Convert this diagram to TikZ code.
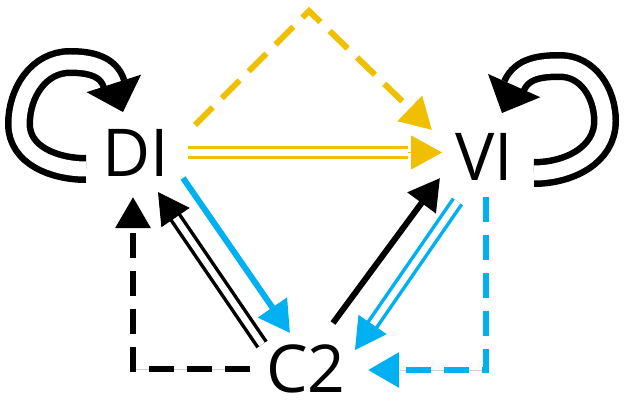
\documentclass[tikz,border=0pt]{standalone}
\usepackage{fontspec}
\setmainfont{Open Sans}
\usetikzlibrary{arrows.meta}
\definecolor{cyel}{RGB}{240,192,0}
\definecolor{cblu}{RGB}{0,176,240}
\begin{document}
\begin{tikzpicture}[x=1pt,y=-1pt,
  lbl/.style={font=\fontsize{66}{66}\selectfont, inner sep=0pt, anchor=base},
  solidln/.style={line width=6pt},
  dashln/.style={line width=6pt, dash pattern=on 25pt off 13pt, line join=miter},
  dblln/.style={line width=3.5pt, double=white, double distance=6.5pt},
  loopln/.style={line width=6.5pt, double=white, double distance=15pt},
  hd/.style={-{Triangle[length=31pt,width=34pt]}},
  tiponly/.style={-{Triangle[length=31pt,width=34pt]}, line width=1pt},
  bighd/.style={-{Triangle[length=30pt,width=57pt]}, line width=1pt},
  gline/.style={line width=0.8pt, gray!35}
]
\useasboundingbox (0,0) rectangle (624,401);
% labels
\node[lbl] (DI) at (135.5,177) {DI};
\node[lbl] (VI) at (484,180) {VI};
\node[lbl] (C2) at (306,392) {C2};
% coordinates
\coordinate (ys) at (188,152.5);
\coordinate (yb) at (408,152.5);
\coordinate (yt) at (442,152.5);
\coordinate (yd1) at (195,125);
\coordinate (yd2) at (309,11);
\coordinate (yd3) at (432,130);
\coordinate (b1s) at (183,178);
\coordinate (b1t) at (290,333);
\coordinate (k2s) at (262,344.5);
\coordinate (k2b) at (173.8,215.1);
\coordinate (k2t) at (158,192);
\coordinate (k1s) at (333,323);
\coordinate (k1t) at (440,178);
\coordinate (b2s) at (457.5,201.5);
\coordinate (b2b) at (372,325.3);
\coordinate (b2t) at (355,350);
\coordinate (kd1) at (250,369);
\coordinate (kd2) at (133,369);
\coordinate (kd3) at (133,197);
\coordinate (bd1) at (486,197);
\coordinate (bd2) at (486,370);
\coordinate (bd3) at (368,370);
\coordinate (bdg) at (400,370);
% DI -> VI (yellow double)
\draw[dblln, cyel] (ys) -- (yb);
\draw[tiponly, cyel] (yb) -- (yt);
% DI -> VI (yellow dashed)
\draw[dashln, cyel, hd] (yd1) -- (yd2) -- (yd3);
% DI -> C2 (blue)
\draw[solidln, cblu, hd] (b1s) -- (b1t);
% C2 -> DI (black double)
\draw[dblln] (k2s) -- (k2b);
\draw[tiponly] (k2b) -- (k2t);
% C2 -> VI (black)
\draw[solidln, hd] (k1s) -- (k1t);
% VI -> C2 (blue double)
\draw[dblln, cblu] (b2s) -- (b2b);
\draw[tiponly, cblu] (b2b) -- (b2t);
% C2 -> DI (black dashed)
\draw[gline] (kd1) -- (kd2);
\draw[dashln, hd] (kd1) -- (kd2) -- (kd3);
% VI -> C2 (blue dashed)
\draw[gline] (bd2) -- (bdg);
\draw[dashln, cblu, hd] (bd1) -- (bd2) -- (bd3);
% self loop DI
\coordinate (l1a) at (86,169);
\coordinate (l1b) at (19,124);
\coordinate (l1c) at (70,62);
\coordinate (l1h) at (114,84);
\coordinate (l1t) at (123,112);
\draw[loopln] (l1a) to[out=180,in=270] (l1b) to[out=90,in=180] (l1c) to[out=0,in=107] (l1h);
\draw[bighd] (l1h) -- (l1t);
% self loop VI
\coordinate (l2a) at (534,173);
\coordinate (l2b) at (605,121);
\coordinate (l2c) at (560,66);
\coordinate (l2h) at (514,86);
\coordinate (l2t) at (502,113);
\draw[loopln] (l2a) to[out=0,in=270] (l2b) to[out=90,in=0] (l2c) to[out=180,in=66] (l2h);
\draw[bighd] (l2h) -- (l2t);
\end{tikzpicture}
\end{document}
